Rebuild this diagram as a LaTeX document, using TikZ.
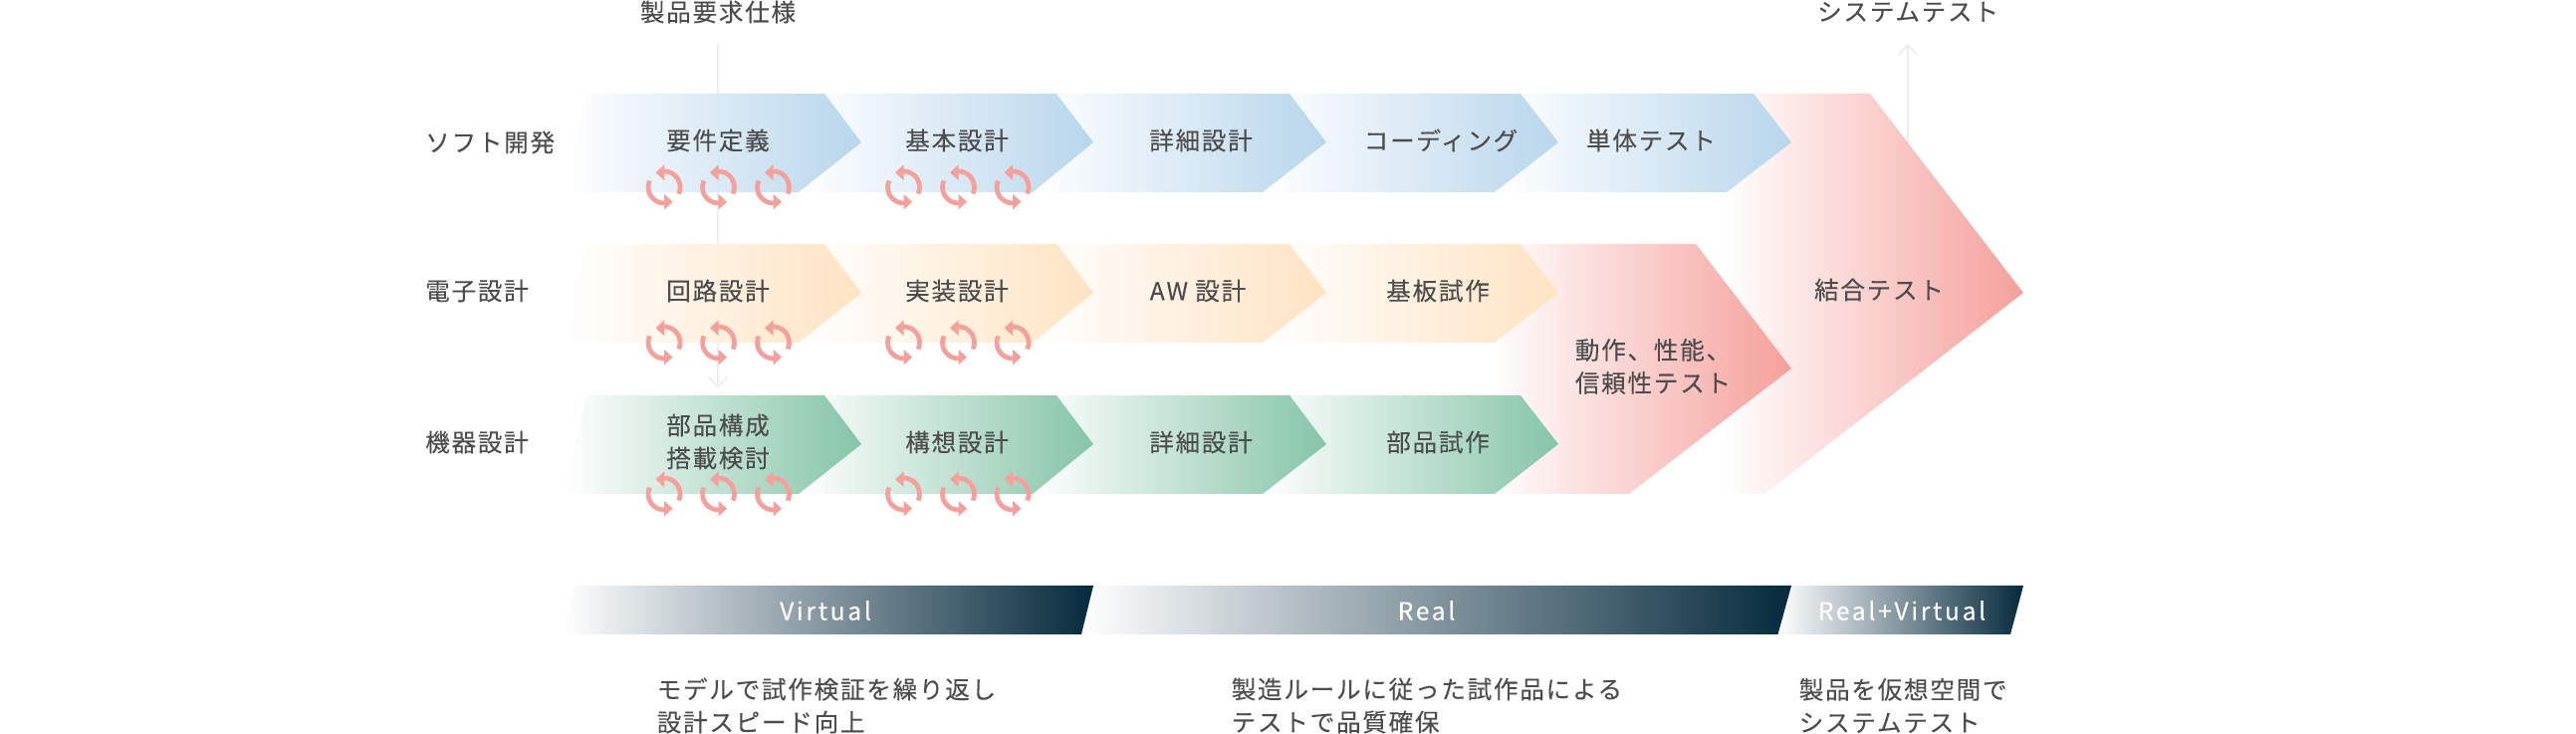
\documentclass[tikz,border=0pt]{standalone}
\usepackage{fontspec}
\setmainfont{Noto Sans CJK JP}[LetterSpace=7,FakeBold=0.12]
\usepackage{xcolor}
\usetikzlibrary{arrows.meta}

\definecolor{chevblue}{HTML}{B8D6EC}
\definecolor{chevorange}{HTML}{FFE3C2}
\definecolor{chevgreen}{HTML}{85C5A8}
\definecolor{chevred}{HTML}{F5A09B}
\definecolor{bardark}{HTML}{052A3D}
\definecolor{txtgray}{HTML}{4D4D4D}
\definecolor{linegray}{HTML}{EEEEEE}

\begin{document}
\begin{tikzpicture}[
  lbl/.style={font=\fontsize{7.0pt}{9.39pt}\selectfont,text=txtgray,inner sep=0pt,align=center},
  rowlbl/.style={lbl,anchor=west},
  notelbl/.style={lbl,anchor=west,align=left},
  toplbl/.style={lbl,minimum height=0.62cm},
  barlbl/.style={lbl,text=white,font=\fontsize{7.0pt}{9.39pt}\selectfont\addfontfeature{LetterSpace=11}},
  flowline/.style={draw=linegray,line width=0.02cm,-{Straight Barb[length=0.1cm,width=0.19cm]}},
  barshade/.style={left color=white,right color=bardark},
  cycleicon/.pic={
    \draw[chevred,line width=0.047cm] (-24:0.16) arc (-24:92:0.16);
    \draw[chevred,line width=0.047cm] (156:0.16) arc (156:272:0.16);
    \fill[chevred] (0,0.225) -- (0,0.069) -- (-0.085,0.147) -- cycle;
    \fill[chevred] (0,-0.225) -- (0,-0.069) -- (0.085,-0.147) -- cycle;
  }
]
  \useasboundingbox (0,0) rectangle (25.87,7.37);

  \node[toplbl] (req) at (7.21,7.25) {製品要求仕様};
  \node[toplbl] (sys) at (19.16,7.25) {システムテスト};
  \coordinate (reqend) at (7.21,3.47);
  \coordinate (sysfoot) at (19.16,5.94);
  \draw[flowline] (req.south) -- (reqend);
  \draw[flowline] (sysfoot) -- (sys.south);

  \shade[left color=white,right color=chevred] (17.30,2.41) -- (17.30,6.43) -- (18.78,6.43) -- (20.32,4.43) -- (17.72,2.41) -- cycle;
  \shade[left color=white,right color=chevred] (14.95,2.41) -- (14.95,4.92) -- (17.03,4.92) -- (17.99,3.67) -- (16.36,2.41) -- cycle;
  \shade[left color=white,right color=chevblue] (15.01,5.44) -- (15.27,6.43) -- (17.61,6.43) -- (17.99,5.94) -- (17.34,5.44) -- cycle;

  \foreach \chcol/\ya/\yb/\yc in {chevblue/6.43/5.94/5.44,chevorange/4.92/4.43/3.93,chevgreen/3.40/2.91/2.41}{
    \foreach \xa/\xb/\xc/\xd/\xe in {12.68/12.95/15.27/15.65/15.01,10.37/10.61/12.95/13.32/12.68,8.02/8.28/10.61/10.98/10.37,5.66/5.88/8.28/8.65/8.02}{
      \shade[left color=white,right color=\chcol] (\xa,\yc) -- (\xb,\ya) -- (\xc,\ya) -- (\xd,\yb) -- (\xe,\yc) -- cycle;
    }
  }

  \foreach \y in {5.49,3.93,2.41}{
    \foreach \x in {6.67,7.215,7.765,9.075,9.625,10.17}{
      \pic at (\x,\y) {cycleicon};
    }
  }

  \node[rowlbl] (soft) at (4.265,5.94) {ソフト開発};
  \node[rowlbl] (elec) at (4.265,4.45) {電子設計};
  \node[rowlbl] (mech) at (4.265,2.93) {機器設計};

  \node[lbl] (yoken) at (7.21,5.96) {要件定義};
  \node[lbl] (kihon) at (9.61,5.96) {基本設計};
  \node[lbl] (shosai) at (12.06,5.96) {詳細設計};
  \node[lbl] (coding) at (14.47,5.96) {コーディング};
  \node[lbl] (tantai) at (16.58,5.96) {単体テスト};
  \node[lbl] (kairo) at (7.21,4.45) {回路設計};
  \node[lbl] (jisso) at (9.61,4.45) {実装設計};
  \node[lbl] (aw) at (12.03,4.45) {AW 設計};
  \node[lbl] (kiban) at (14.44,4.45) {基板試作};
  \node[lbl] (buhin) at (7.21,2.935) {部品構成\\搭載検討};
  \node[lbl] (koso) at (9.61,2.93) {構想設計};
  \node[lbl] (shosaib) at (12.06,2.93) {詳細設計};
  \node[lbl] (buhins) at (14.44,2.93) {部品試作};
  \node[lbl,align=left] (dosa) at (16.60,3.69) {動作、性能、\\信頼性テスト};
  \node[lbl] (ketsugo) at (18.87,4.46) {結合テスト};

  \shade[barshade] (17.855,1.00) -- (17.99,1.49) -- (20.32,1.49) -- (20.19,1.00) -- cycle;
  \shade[barshade] (10.86,1.00) -- (10.98,1.49) -- (17.99,1.49) -- (17.855,1.00) -- cycle;
  \shade[barshade] (5.65,1.00) -- (5.76,1.49) -- (10.98,1.49) -- (10.86,1.00) -- cycle;

  \node[barlbl] (virt) at (8.29,1.24) {Virtual};
  \node[barlbl] (real) at (14.325,1.24) {Real};
  \node[barlbl] (realvirt) at (19.10,1.24) {Real+Virtual};

  \node[notelbl] (note1) at (6.59,0.285) {モデルで試作検証を繰り返し\\設計スピード向上};
  \node[notelbl] (note2) at (12.36,0.285) {製造ルールに従った試作品による\\テストで品質確保};
  \node[notelbl] (note3) at (18.06,0.285) {製品を仮想空間で\\システムテスト};
\end{tikzpicture}
\end{document}
